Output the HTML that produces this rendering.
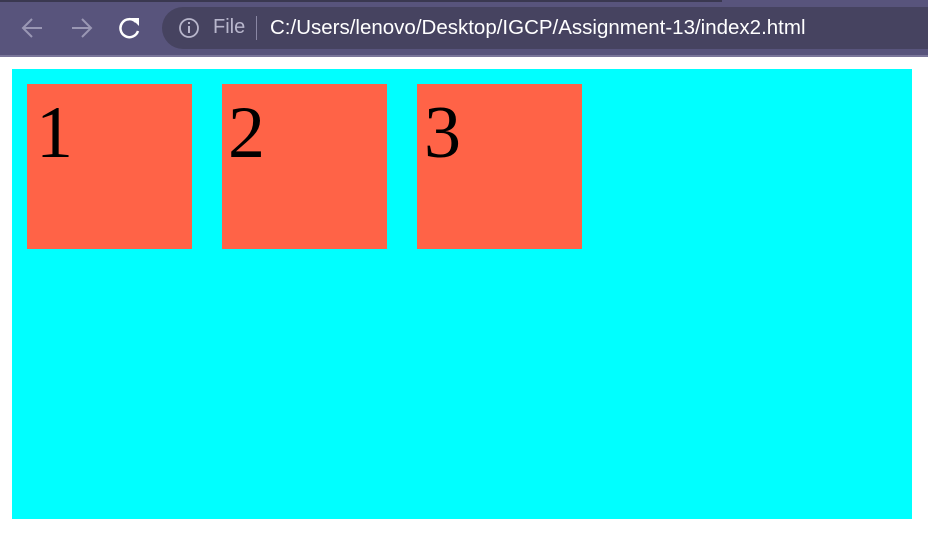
<!DOCTYPE html>
<html><head><style>
body{margin:0;width:928px;height:537px;background:#fff;position:relative;overflow:hidden;font-family:"Liberation Sans",sans-serif}
.bar{position:absolute;left:0;top:0;width:928px;height:55px;background:#58547c}
.top{position:absolute;left:0;top:0;width:722px;height:2px;background:#3a3850}
.line{position:absolute;left:0;top:55px;width:928px;height:2px;background:#7a769a}
.pill{position:absolute;left:162px;top:7px;width:800px;height:42px;border-radius:21px;background:#464360}
.t{position:absolute;color:#fff;font-size:20px;top:16px}
.cy{position:absolute;left:12px;top:69px;width:900px;height:450px;background:#0ff}
.b{position:absolute;top:84px;width:165px;height:165px;background:#ff6347;font-family:"Liberation Serif",serif;font-size:74px;line-height:1;box-sizing:border-box;padding:12px 0 0 9px;color:#000}
</style></head><body>
<div class="bar"></div><div class="top"></div><div class="line"></div>
<div class="pill"></div>
<svg style="position:absolute;left:0;top:0" width="200" height="56">
<g stroke="#9a97b4" stroke-width="2" fill="none"><path d="M24 28h18M32 19l-9 9 9 9"/><path d="M72 28h18M82 19l9 9-9 9"/></g>
<path d="M136 22a9 9 0 1 0 2 9" stroke="#fff" stroke-width="2.5" fill="none"/><path d="M131 18l8 0 0 8z" fill="#fff"/>
<circle cx="189" cy="28" r="9" stroke="#b8b6cc" stroke-width="1.8" fill="none"/><rect x="188" y="26" width="2" height="7" fill="#b8b6cc"/><rect x="188" y="22" width="2" height="2" fill="#b8b6cc"/>
</svg>
<div class="t" style="left:213px;color:#b8b6cc">File</div>
<div style="position:absolute;left:256px;top:16px;width:1px;height:24px;background:#8a87a4"></div>
<div class="t" style="left:270px;font-size:20.5px">C:/Users/lenovo/Desktop/IGCP/Assignment-13/index2.html</div>
<div class="cy"></div>
<div class="b" style="left:27px">1</div>
<div class="b" style="left:222px;padding-left:6px">2</div>
<div class="b" style="left:417px;padding-left:7px">3</div>
</body></html>
